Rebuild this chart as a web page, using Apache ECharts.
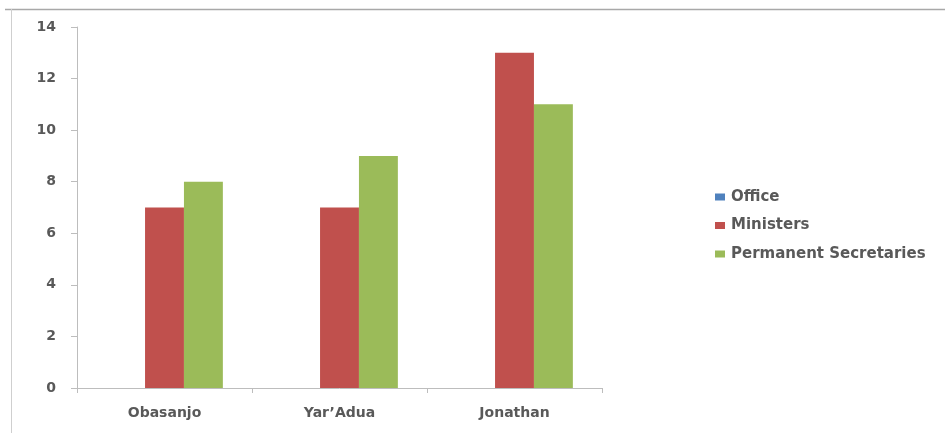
<!DOCTYPE html>
<html>
<head>
<meta charset="utf-8">
<style>
  html, body { margin: 0; padding: 0; background: #fff; }
  #chart { width: 945px; height: 433px; }
</style>
<script src="https://cdn.jsdelivr.net/npm/echarts@6/dist/echarts.min.js"></script>
</head>
<body>
<div id="chart"></div>
<script>
// Appointments by administration
const categories = ['Obasanjo', "Yar\u2019Adua", 'Jonathan'];
const office = [0, 0, 0];
const ministers = [7, 7, 13];
const permanentSecretaries = [8, 9, 11];
const seriesNames = ['Office', 'Ministers', 'Permanent Secretaries'];
const yTicks = { min: 0, max: 14, interval: 2 };

const colors = ['#4F81BD', '#C0504D', '#9BBB59'];
const font = '"DejaVu Sans", "Noto Sans", sans-serif';
const textGrey = '#595959';

const chart = echarts.init(document.getElementById('chart'), null, { renderer: 'canvas' });

chart.setOption({
  animation: false,
  color: colors,
  textStyle: { fontFamily: font },
  grid: { left: 77, right: 343, top: 27, bottom: 45 },
  legend: {
    orient: 'vertical',
    left: 710,
    top: 183,
    itemWidth: 10,
    itemHeight: 7,
    itemGap: 10.5,
    icon: 'rect',
    textStyle: { fontFamily: font, fontSize: 15, lineHeight: 18, fontWeight: 'bold', color: textGrey, padding: [0, 0, 0, 1] },
    data: seriesNames
  },
  xAxis: {
    type: 'category',
    data: categories,
    axisLine: { lineStyle: { color: '#BDBDBD', width: 1 } },
    axisTick: { show: true, length: 5, lineStyle: { color: '#BDBDBD' } },
    axisLabel: { margin: 18, fontSize: 14, fontWeight: 'bold', color: textGrey, fontFamily: font }
  },
  yAxis: {
    type: 'value',
    min: yTicks.min,
    max: yTicks.max,
    interval: yTicks.interval,
    axisLine: { show: true, lineStyle: { color: '#BDBDBD', width: 1 } },
    axisTick: { show: true, length: 6, lineStyle: { color: '#BDBDBD' } },
    splitLine: { show: false },
    axisLabel: { margin: 21, fontSize: 14, fontWeight: 'bold', color: textGrey, fontFamily: font }
  },
  series: [
    { name: seriesNames[0], type: 'bar', data: office, barGap: '0%', barCategoryGap: '33.3%' },
    { name: seriesNames[1], type: 'bar', data: ministers, barGap: '0%', barCategoryGap: '33.3%' },
    { name: seriesNames[2], type: 'bar', data: permanentSecretaries, barGap: '0%', barCategoryGap: '33.3%' }
  ],
  graphic: [
    // outer frame edges
    { type: 'line', shape: { x1: 5, y1: 9.5, x2: 945, y2: 9.5 }, style: { stroke: '#A8A8A8', lineWidth: 1.5 } },
    { type: 'line', shape: { x1: 11.5, y1: 9, x2: 11.5, y2: 433 }, style: { stroke: '#CFCFCF', lineWidth: 1 } }
  ]
});
</script>
</body>
</html>
